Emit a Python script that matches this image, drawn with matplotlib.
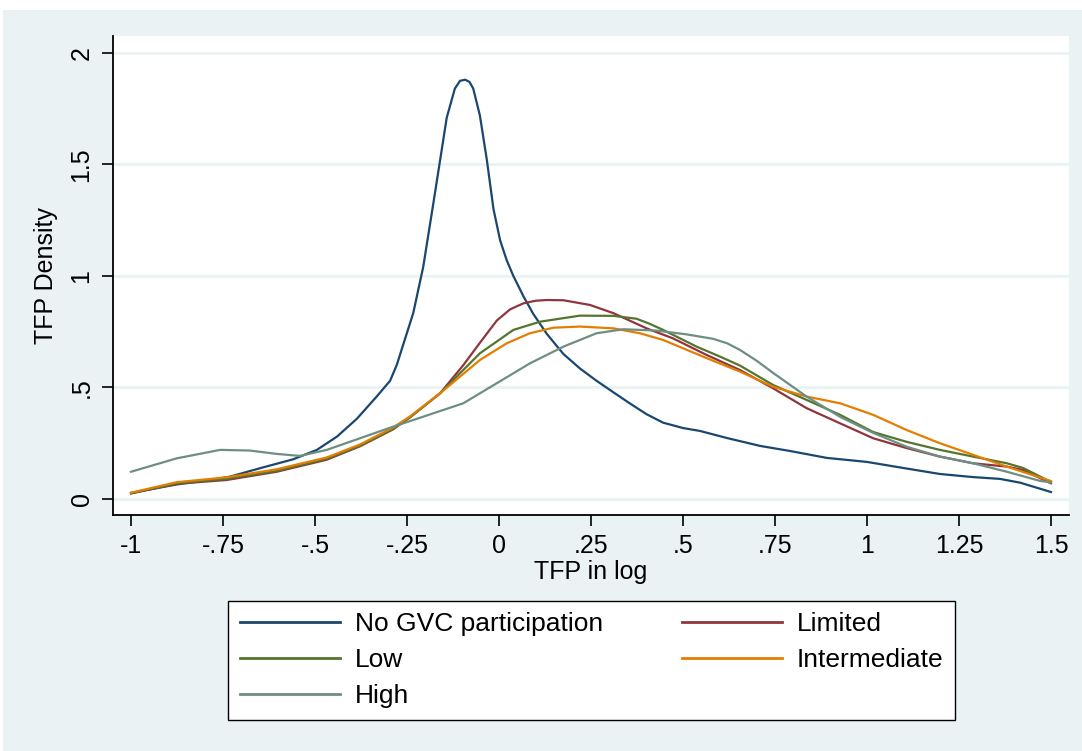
import numpy as np
import matplotlib.pyplot as plt
from matplotlib.patches import Rectangle

plt.rcParams['font.family'] = ['Liberation Sans', 'DejaVu Sans']

# kernel density estimates of log TFP, by GVC participation group
none_x = [-1, -0.876, -0.785, -0.731, -0.649, -0.559, -0.495, -0.44, -0.386, -0.332, -0.296,
          -0.278, -0.233, -0.206, -0.178, -0.16, -0.142, -0.12, -0.106, -0.092, -0.08, -0.07,
          -0.052, -0.033, -0.015, 0.003, 0.021, 0.039, 0.066, 0.093, 0.13, 0.175, 0.22, 0.265,
          0.311, 0.356, 0.401, 0.446, 0.5, 0.546, 0.62, 0.709, 0.791, 0.891, 1.0, 1.098, 1.198,
          1.288, 1.361, 1.416, 1.5]
none_y = [0.027, 0.065, 0.085, 0.10, 0.138, 0.178, 0.22, 0.28, 0.36, 0.46, 0.53,
          0.60, 0.834, 1.04, 1.33, 1.52, 1.71, 1.84, 1.875, 1.88, 1.87, 1.84,
          1.72, 1.52, 1.30, 1.16, 1.07, 1.00, 0.91, 0.83, 0.74, 0.65, 0.585, 0.53,
          0.478, 0.428, 0.38, 0.342, 0.318, 0.305, 0.273, 0.238, 0.215, 0.184, 0.166, 0.139, 0.112,
          0.098, 0.090, 0.073, 0.031]

limited_x = [-1, -0.876, -0.74, -0.604, -0.468, -0.378, -0.288, -0.242, -0.16, -0.097, -0.052,
             -0.006, 0.03, 0.066, 0.1, 0.13, 0.175, 0.247, 0.311, 0.401, 0.473, 0.565, 0.655,
             0.745, 0.836, 0.927, 1.017, 1.108, 1.198, 1.288, 1.38, 1.424, 1.5]
limited_y = [0.025, 0.068, 0.085, 0.122, 0.176, 0.236, 0.312, 0.366, 0.474, 0.60, 0.70,
             0.80, 0.85, 0.877, 0.889, 0.892, 0.891, 0.870, 0.833, 0.765, 0.72, 0.645, 0.578,
             0.496, 0.407, 0.339, 0.272, 0.228, 0.19, 0.16, 0.145, 0.13, 0.07]

low_x = [-1, -0.876, -0.74, -0.604, -0.468, -0.378, -0.288, -0.242, -0.16, -0.052, 0.039, 0.112,
         0.22, 0.311, 0.374, 0.41, 0.446, 0.537, 0.601, 0.655, 0.745, 0.836, 0.927, 1.017, 1.108,
         1.198, 1.288, 1.38, 1.424, 1.5]
low_y = [0.025, 0.07, 0.09, 0.126, 0.18, 0.238, 0.314, 0.366, 0.474, 0.653, 0.758, 0.795,
         0.822, 0.821, 0.808, 0.785, 0.758, 0.683, 0.638, 0.598, 0.511, 0.444, 0.377, 0.30, 0.256,
         0.22, 0.19, 0.16, 0.139, 0.076]

inter_x = [-1, -0.876, -0.74, -0.604, -0.468, -0.378, -0.288, -0.242, -0.16, -0.052, 0.021,
           0.084, 0.148, 0.22, 0.311, 0.383, 0.446, 0.565, 0.655, 0.745, 0.836, 0.927, 1.017,
           1.108, 1.198, 1.288, 1.38, 1.5]
inter_y = [0.028, 0.075, 0.097, 0.133, 0.186, 0.244, 0.32, 0.37, 0.474, 0.623, 0.698,
           0.743, 0.768, 0.773, 0.765, 0.743, 0.713, 0.631, 0.571, 0.503, 0.459, 0.429, 0.377,
           0.309, 0.25, 0.198, 0.145, 0.08]

high_x = [-1, -0.876, -0.758, -0.677, -0.604, -0.541, -0.468, -0.378, -0.288, -0.233, -0.097,
          -0.006, 0.084, 0.175, 0.265, 0.338, 0.428, 0.51, 0.582, 0.62, 0.655, 0.7, 0.745, 0.836,
          0.927, 1.017, 1.108, 1.198, 1.288, 1.38, 1.47, 1.5]
high_y = [0.122, 0.182, 0.22, 0.217, 0.202, 0.193, 0.22, 0.272, 0.324, 0.354, 0.429,
          0.519, 0.608, 0.683, 0.743, 0.761, 0.755, 0.738, 0.718, 0.698, 0.668, 0.62, 0.565, 0.459,
          0.368, 0.296, 0.234, 0.19, 0.16, 0.122, 0.081, 0.074]

x_ticks = [-1, -0.75, -0.5, -0.25, 0, 0.25, 0.5, 0.75, 1, 1.25, 1.5]
x_labels = ['-1', '-.75', '-.5', '-.25', '0', '.25', '.5', '.75', '1', '1.25', '1.5']
y_ticks = [0, 0.5, 1, 1.5, 2]
y_labels = ['0', '.5', '1', '1.5', '2']

panel = '#eaf2f3'

fig = plt.figure(figsize=(10.82, 7.51), dpi=100, facecolor='white')
fig.patches.append(Rectangle((3 / 1082, 0), 1, (751 - 10) / 751, transform=fig.transFigure,
                             facecolor=panel, edgecolor='none', zorder=-10))

ax = fig.add_axes([113 / 1082, (751 - 515) / 751, (1069 - 113) / 1082, (515 - 36) / 751])
ax.set_facecolor('white')

for y in y_ticks:
    ax.axhline(y, color=panel, lw=2, zorder=1)

l_none, = ax.plot(none_x, none_y, color='#1a476f', lw=1.6, label='No GVC participation', zorder=3)
l_lim, = ax.plot(limited_x, limited_y, color='#90353b', lw=1.6, label='Limited', zorder=3)
l_low, = ax.plot(low_x, low_y, color='#55752f', lw=1.6, label='Low', zorder=3)
l_int, = ax.plot(inter_x, inter_y, color='#e37e00', lw=1.6, label='Intermediate', zorder=3)
l_high, = ax.plot(high_x, high_y, color='#6e8e84', lw=1.6, label='High', zorder=3)

ax.set_xlim(-1.049, 1.549)
ax.set_ylim(-0.072, 2.076)
ax.set_xticks(x_ticks)
ax.set_xticklabels(x_labels)
ax.set_yticks(y_ticks)
ax.set_yticklabels(y_labels, rotation=90, va='center')
ax.tick_params(axis='both', labelsize=18, length=8, width=1.2, direction='out', pad=6)
for side in ['top', 'right']:
    ax.spines[side].set_visible(False)
for side in ['left', 'bottom']:
    ax.spines[side].set_linewidth(1.3)
ax.set_xlabel('TFP in log', fontsize=18, labelpad=1)
ax.set_ylabel('TFP Density', fontsize=18, labelpad=8)

handles = [l_none, l_low, l_high, l_lim, l_int]
leg = fig.legend(handles=handles, labels=[h.get_label() for h in handles], ncol=2,
                 loc='lower left', bbox_to_anchor=(228 / 1082, 31 / 751, (955 - 228) / 1082, 0.16),
                 mode='expand', borderaxespad=0, fontsize=19, handlelength=3.8, handletextpad=0.55,
                 labelspacing=0.45, borderpad=0.45, frameon=True, fancybox=False,
                 facecolor='white', framealpha=1)
leg.get_frame().set_edgecolor('black')
leg.get_frame().set_linewidth(1.0)
for line in leg.get_lines():
    line.set_linewidth(2.0)

fig.savefig('out.png', dpi=100, facecolor='white')
